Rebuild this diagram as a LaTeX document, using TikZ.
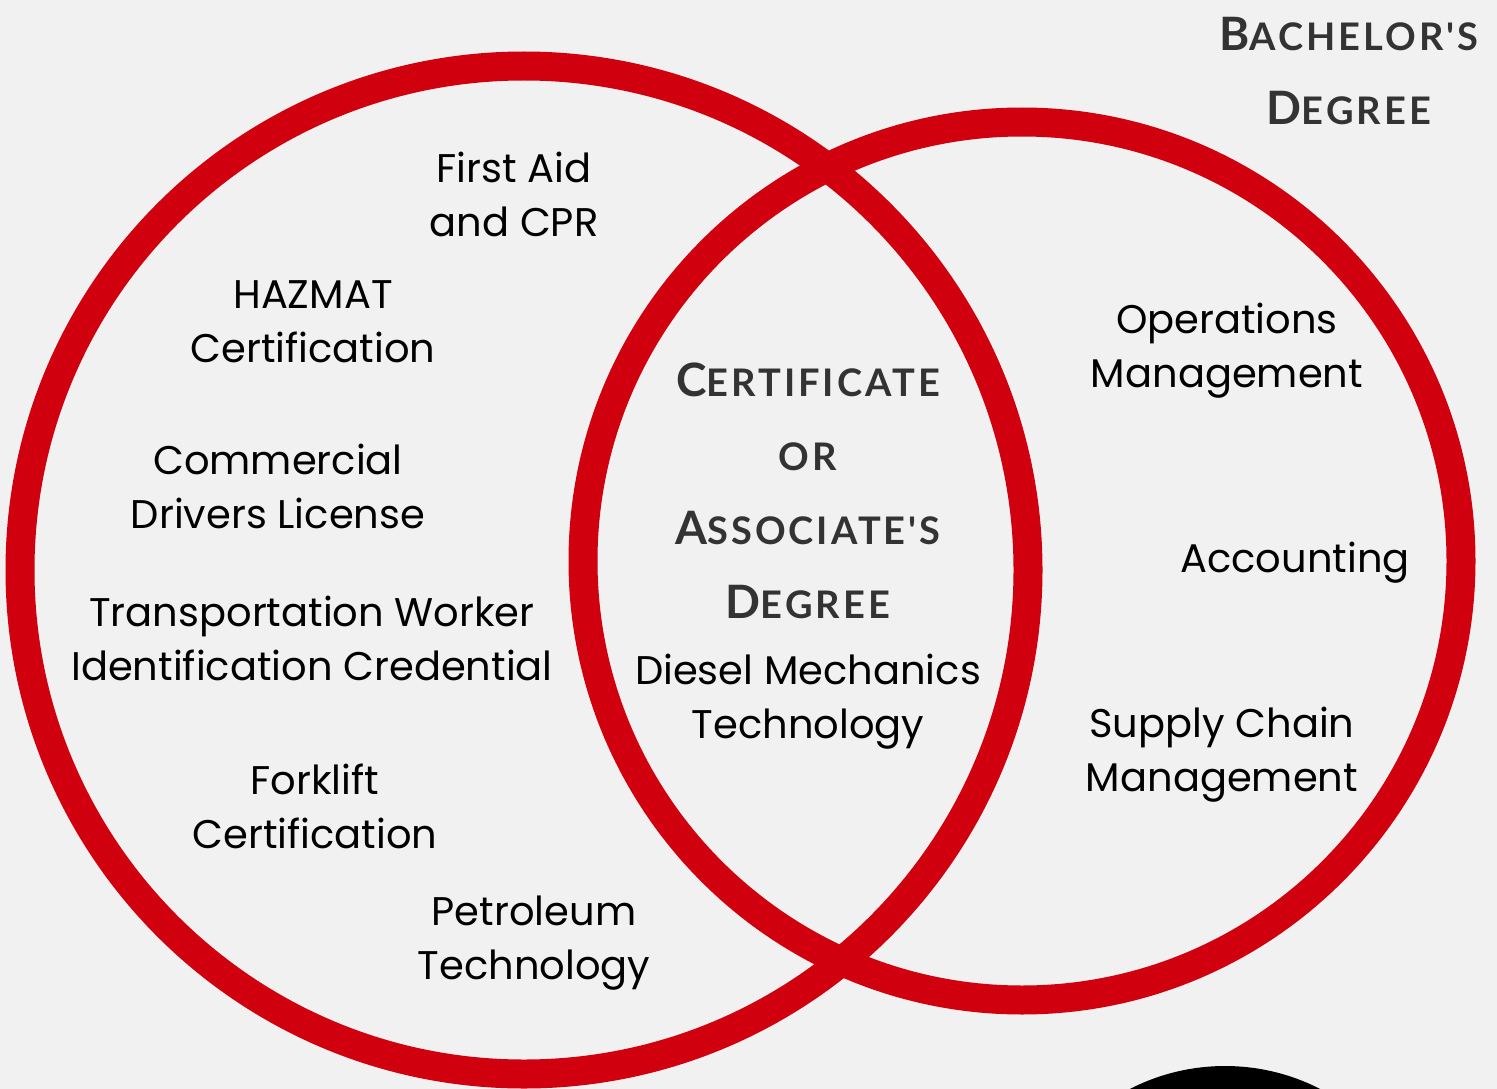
\documentclass[tikz,border=0pt]{standalone}
\usepackage{fontspec}
\setmainfont{Poppins}
\newfontfamily\headfont[LetterSpace=8]{Lato}
\usepackage{tikz}
\usetikzlibrary{positioning}
\definecolor{ringred}{RGB}{208,0,14}
\definecolor{paper}{RGB}{241,241,241}
\definecolor{headgray}{RGB}{51,51,51}
\newcommand{\capl}[1]{{\fontsize{46}{46}\selectfont #1}}
\tikzset{
    item/.style={align=center, inner sep=0pt, font=\fontsize{40}{54}\selectfont},
    head/.style={align=center, inner sep=0pt, text=headgray,
        font=\headfont\bfseries\fontsize{38}{74}\selectfont},
    ring/.style={draw=ringred, line width=29pt}
}
\begin{document}
\begin{tikzpicture}[x=1pt,y=-1pt]
        \fill[paper] (0,0) rectangle (1497,1089);
        \useasboundingbox (0,0) rectangle (1497,1089);
        \begin{scope}
            \clip (0,0) rectangle (1497,1089);
            \fill[black] (1225,1274) circle (208);
            \draw[ring] (524,570) circle (504);
            \draw[ring] (1022,561) circle (439);
        \end{scope}
        \node[head] (bach) at (1349,71) {\capl{B}ACHELOR'S\\\capl{D}EGREE};
        \node[head] (mid) at (808,491) {\capl{C}ERTIFICATE\\OR\\\capl{A}SSOCIATE'S\\\capl{D}EGREE};
        \node[item] (aid) at (514,194) {First Aid\\and CPR};
        \node[item] (hazmat) at (313,322) {HAZMAT\\Certification};
        \node[item] (cdl) at (278,486) {Commercial\\Drivers License};
        \node[item] (twic) at (312,638) {Transportation Worker\\Identification Credential};
        \node[item] (fork) at (315,806) {Forklift\\Certification};
        \node[item] (petro) at (534,943) {Petroleum\\Technology};
        \node[item] (diesel) at (808,702) {Diesel Mechanics\\Technology};
        \node[item] (ops) at (1227,351) {Operations\\Management};
        \node[item] (acct) at (1295,563) {Accounting};
        \node[item] (scm) at (1222,755) {Supply Chain\\Management};
    \end{tikzpicture}
\end{document}
